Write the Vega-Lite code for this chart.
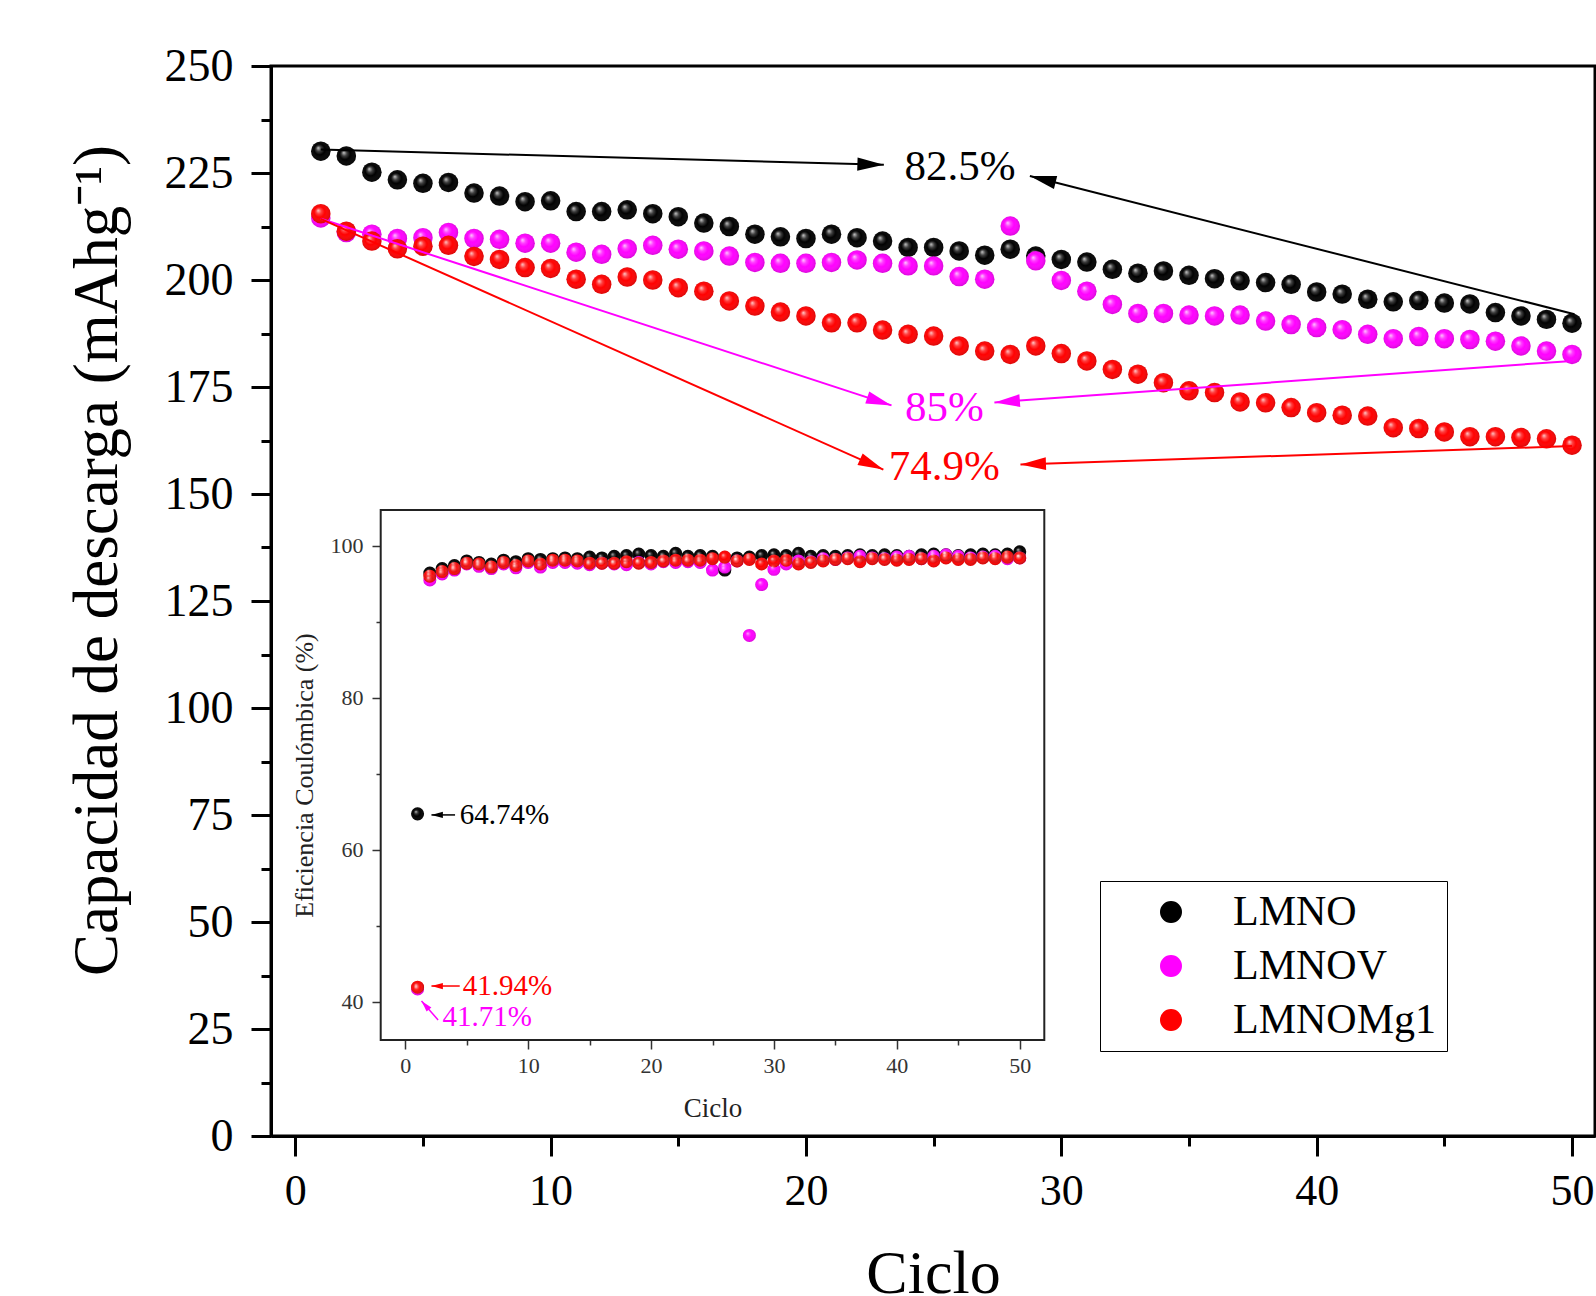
{
  "$schema": "https://vega.github.io/schema/vega-lite/v6.json",
  "autosize": {"type": "none"},
  "padding": {"left": 271, "top": 66, "right": 1, "bottom": 160},
  "width": 1324,
  "height": 1070,
  "background": "white",
  "datasets": {
    "capacidad": [
      {"ciclo":1,"LMNO":230.1,"LMNOV":214.5,"LMNOMg1":215.5},
      {"ciclo":2,"LMNO":229.0,"LMNOV":211.1,"LMNOMg1":211.4},
      {"ciclo":3,"LMNO":225.2,"LMNOV":210.7,"LMNOMg1":209.1},
      {"ciclo":4,"LMNO":223.4,"LMNOV":209.7,"LMNOMg1":207.3},
      {"ciclo":5,"LMNO":222.6,"LMNOV":209.9,"LMNOMg1":207.9},
      {"ciclo":6,"LMNO":222.8,"LMNOV":211.1,"LMNOMg1":208.1},
      {"ciclo":7,"LMNO":220.3,"LMNOV":209.7,"LMNOMg1":205.5},
      {"ciclo":8,"LMNO":219.6,"LMNOV":209.5,"LMNOMg1":204.8},
      {"ciclo":9,"LMNO":218.3,"LMNOV":208.6,"LMNOMg1":202.9},
      {"ciclo":10,"LMNO":218.5,"LMNOV":208.6,"LMNOMg1":202.7},
      {"ciclo":11,"LMNO":216.0,"LMNOV":206.5,"LMNOMg1":200.2},
      {"ciclo":12,"LMNO":216.0,"LMNOV":206.0,"LMNOMg1":199.0},
      {"ciclo":13,"LMNO":216.4,"LMNOV":207.3,"LMNOMg1":200.7},
      {"ciclo":14,"LMNO":215.5,"LMNOV":208.1,"LMNOMg1":200.0},
      {"ciclo":15,"LMNO":214.8,"LMNOV":207.2,"LMNOMg1":198.2},
      {"ciclo":16,"LMNO":213.3,"LMNOV":206.8,"LMNOMg1":197.4},
      {"ciclo":17,"LMNO":212.5,"LMNOV":205.6,"LMNOMg1":195.1},
      {"ciclo":18,"LMNO":210.7,"LMNOV":204.1,"LMNOMg1":193.9},
      {"ciclo":19,"LMNO":210.1,"LMNOV":203.9,"LMNOMg1":192.5},
      {"ciclo":20,"LMNO":209.7,"LMNOV":203.9,"LMNOMg1":191.6},
      {"ciclo":21,"LMNO":210.7,"LMNOV":204.1,"LMNOMg1":190.0},
      {"ciclo":22,"LMNO":209.9,"LMNOV":204.7,"LMNOMg1":190.0},
      {"ciclo":23,"LMNO":209.1,"LMNOV":203.9,"LMNOMg1":188.3},
      {"ciclo":24,"LMNO":207.6,"LMNOV":203.3,"LMNOMg1":187.3},
      {"ciclo":25,"LMNO":207.6,"LMNOV":203.3,"LMNOMg1":186.9},
      {"ciclo":26,"LMNO":206.8,"LMNOV":200.8,"LMNOMg1":184.6},
      {"ciclo":27,"LMNO":205.8,"LMNOV":200.2,"LMNOMg1":183.4},
      {"ciclo":28,"LMNO":207.2,"LMNOV":212.6,"LMNOMg1":182.6},
      {"ciclo":29,"LMNO":205.6,"LMNOV":204.5,"LMNOMg1":184.6},
      {"ciclo":30,"LMNO":204.8,"LMNOV":199.9,"LMNOMg1":182.8},
      {"ciclo":31,"LMNO":204.2,"LMNOV":197.4,"LMNOMg1":181.1},
      {"ciclo":32,"LMNO":202.5,"LMNOV":194.3,"LMNOMg1":179.1},
      {"ciclo":33,"LMNO":201.6,"LMNOV":192.2,"LMNOMg1":178.0},
      {"ciclo":34,"LMNO":202.1,"LMNOV":192.2,"LMNOMg1":176.0},
      {"ciclo":35,"LMNO":201.1,"LMNOV":191.8,"LMNOMg1":174.1},
      {"ciclo":36,"LMNO":200.3,"LMNOV":191.6,"LMNOMg1":173.7},
      {"ciclo":37,"LMNO":199.8,"LMNOV":191.8,"LMNOMg1":171.5},
      {"ciclo":38,"LMNO":199.4,"LMNOV":190.4,"LMNOMg1":171.3},
      {"ciclo":39,"LMNO":199.0,"LMNOV":189.6,"LMNOMg1":170.2},
      {"ciclo":40,"LMNO":197.2,"LMNOV":188.9,"LMNOMg1":169.0},
      {"ciclo":41,"LMNO":196.7,"LMNOV":188.4,"LMNOMg1":168.4},
      {"ciclo":42,"LMNO":195.5,"LMNOV":187.3,"LMNOMg1":168.2},
      {"ciclo":43,"LMNO":194.9,"LMNOV":186.3,"LMNOMg1":165.5},
      {"ciclo":44,"LMNO":195.2,"LMNOV":186.8,"LMNOMg1":165.3},
      {"ciclo":45,"LMNO":194.6,"LMNOV":186.3,"LMNOMg1":164.5},
      {"ciclo":46,"LMNO":194.4,"LMNOV":186.1,"LMNOMg1":163.4},
      {"ciclo":47,"LMNO":192.4,"LMNOV":185.7,"LMNOMg1":163.4},
      {"ciclo":48,"LMNO":191.6,"LMNOV":184.6,"LMNOMg1":163.2},
      {"ciclo":49,"LMNO":190.8,"LMNOV":183.4,"LMNOMg1":162.9},
      {"ciclo":50,"LMNO":189.9,"LMNOV":182.6,"LMNOMg1":161.4}
    ],
    "eficiencia": [
      {"ciclo":1,"LMNO":64.74,"LMNOV":41.71,"LMNOMg1":41.94},
      {"ciclo":2,"LMNO":96.4,"LMNOV":95.5,"LMNOMg1":96.0},
      {"ciclo":3,"LMNO":97.0,"LMNOV":96.3,"LMNOMg1":96.6},
      {"ciclo":4,"LMNO":97.4,"LMNOV":96.8,"LMNOMg1":97.0},
      {"ciclo":5,"LMNO":98.0,"LMNOV":97.6,"LMNOMg1":97.7},
      {"ciclo":6,"LMNO":97.8,"LMNOV":97.3,"LMNOMg1":97.6},
      {"ciclo":7,"LMNO":97.6,"LMNOV":97.0,"LMNOMg1":97.2},
      {"ciclo":8,"LMNO":98.1,"LMNOV":97.6,"LMNOMg1":97.8},
      {"ciclo":9,"LMNO":97.9,"LMNOV":97.1,"LMNOMg1":97.4},
      {"ciclo":10,"LMNO":98.3,"LMNOV":97.8,"LMNOMg1":98.0},
      {"ciclo":11,"LMNO":98.2,"LMNOV":97.2,"LMNOMg1":97.6},
      {"ciclo":12,"LMNO":98.3,"LMNOV":97.8,"LMNOMg1":98.1},
      {"ciclo":13,"LMNO":98.4,"LMNOV":97.8,"LMNOMg1":98.1},
      {"ciclo":14,"LMNO":98.3,"LMNOV":97.7,"LMNOMg1":98.0},
      {"ciclo":15,"LMNO":98.5,"LMNOV":97.5,"LMNOMg1":97.7},
      {"ciclo":16,"LMNO":98.4,"LMNOV":97.7,"LMNOMg1":97.7},
      {"ciclo":17,"LMNO":98.6,"LMNOV":97.6,"LMNOMg1":97.7},
      {"ciclo":18,"LMNO":98.7,"LMNOV":97.5,"LMNOMg1":97.9},
      {"ciclo":19,"LMNO":98.9,"LMNOV":97.8,"LMNOMg1":97.7},
      {"ciclo":20,"LMNO":98.7,"LMNOV":97.6,"LMNOMg1":97.8},
      {"ciclo":21,"LMNO":98.6,"LMNOV":97.9,"LMNOMg1":98.0},
      {"ciclo":22,"LMNO":99.0,"LMNOV":97.8,"LMNOMg1":98.1},
      {"ciclo":23,"LMNO":98.6,"LMNOV":97.9,"LMNOMg1":98.1},
      {"ciclo":24,"LMNO":98.7,"LMNOV":97.8,"LMNOMg1":98.1},
      {"ciclo":25,"LMNO":98.6,"LMNOV":96.8,"LMNOMg1":98.3},
      {"ciclo":26,"LMNO":96.8,"LMNOV":97.2,"LMNOMg1":98.5},
      {"ciclo":27,"LMNO":98.4,"LMNOV":98.0,"LMNOMg1":98.0},
      {"ciclo":28,"LMNO":98.5,"LMNOV":88.2,"LMNOMg1":98.2},
      {"ciclo":29,"LMNO":98.7,"LMNOV":94.9,"LMNOMg1":97.6},
      {"ciclo":30,"LMNO":98.8,"LMNOV":96.9,"LMNOMg1":98.0},
      {"ciclo":31,"LMNO":98.7,"LMNOV":97.6,"LMNOMg1":98.1},
      {"ciclo":32,"LMNO":99.0,"LMNOV":98.0,"LMNOMg1":97.6},
      {"ciclo":33,"LMNO":98.6,"LMNOV":97.9,"LMNOMg1":97.8},
      {"ciclo":34,"LMNO":98.7,"LMNOV":98.3,"LMNOMg1":98.0},
      {"ciclo":35,"LMNO":98.6,"LMNOV":98.2,"LMNOMg1":98.2},
      {"ciclo":36,"LMNO":98.7,"LMNOV":98.4,"LMNOMg1":98.3},
      {"ciclo":37,"LMNO":98.8,"LMNOV":98.6,"LMNOMg1":97.9},
      {"ciclo":38,"LMNO":98.7,"LMNOV":98.4,"LMNOMg1":98.3},
      {"ciclo":39,"LMNO":98.8,"LMNOV":98.3,"LMNOMg1":98.2},
      {"ciclo":40,"LMNO":98.7,"LMNOV":98.5,"LMNOMg1":98.1},
      {"ciclo":41,"LMNO":98.6,"LMNOV":98.6,"LMNOMg1":98.2},
      {"ciclo":42,"LMNO":98.8,"LMNOV":98.3,"LMNOMg1":98.3},
      {"ciclo":43,"LMNO":98.9,"LMNOV":98.6,"LMNOMg1":98.0},
      {"ciclo":44,"LMNO":98.8,"LMNOV":98.8,"LMNOMg1":98.4},
      {"ciclo":45,"LMNO":98.7,"LMNOV":98.6,"LMNOMg1":98.2},
      {"ciclo":46,"LMNO":98.8,"LMNOV":98.4,"LMNOMg1":98.2},
      {"ciclo":47,"LMNO":98.9,"LMNOV":98.5,"LMNOMg1":98.4},
      {"ciclo":48,"LMNO":98.8,"LMNOV":98.6,"LMNOMg1":98.3},
      {"ciclo":49,"LMNO":98.9,"LMNOV":98.3,"LMNOMg1":98.5},
      {"ciclo":50,"LMNO":99.2,"LMNOV":98.4,"LMNOMg1":98.4}
    ]
  },
  "layer": [
    {
      "layer": [
        {
          "data": {"name": "capacidad"},
          "transform": [{"fold": ["LMNO","LMNOV","LMNOMg1"], "as": ["muestra","cap"]}, {"filter": "datum.muestra === 'LMNO'"}],
          "mark": {"type": "point", "filled": true, "size": 380, "opacity": 1, "strokeWidth": 0},
          "encoding": {
            "x": {"field": "ciclo", "type": "quantitative", "scale": {"domain": [-0.95, 50.9], "nice": false, "zero": false},
                  "axis": {"orient": "bottom", "values": [0,10,20,30,40,50], "tickSize": 20, "tickWidth": 3, "tickColor": "black", "domain": true, "domainWidth": 3, "domainColor": "black", "labelFont": "Liberation Serif", "labelFontSize": 44, "labelColor": "black", "labelPadding": 13, "labelFlush": false, "labelOverlap": false, "grid": false, "title": "Ciclo", "titleFont": "Liberation Serif", "titleFontSize": 62, "titleFontWeight": "normal", "titleColor": "black", "titlePadding": 30}},
            "y": {"field": "cap", "type": "quantitative", "scale": {"domain": [0, 250], "nice": false, "zero": false},
                  "axis": {"orient": "left", "values": [0,25,50,75,100,125,150,175,200,225,250], "tickSize": 20, "tickWidth": 3, "tickColor": "black", "domain": true, "domainWidth": 3, "domainColor": "black", "labelFont": "Liberation Serif", "labelFontSize": 46, "labelColor": "black", "labelPadding": 18, "labelFlush": false, "labelOverlap": false, "grid": false, "title": "Capacidad de descarga (mAhg⁻¹)", "titleFont": "Liberation Serif", "titleFontSize": 63, "titleFontWeight": "normal", "titleColor": "black", "titleX": -174, "titleY": 494, "titleBaseline": "middle", "titleAlign": "center", "titleAngle": -90}},
            "color": {"field": "muestra", "type": "nominal", "scale": {"domain": ["LMNO","LMNOV","LMNOMg1"], "range": ["#000000","#ff00ff","#ff0000"]},
                      "legend": {"orient": "none", "legendX": 829, "legendY": 815, "title": null, "strokeColor": "black", "fillColor": "white", "padding": 10, "symbolType": "circle", "symbolSize": 420, "symbolOffset": 40, "labelFont": "Liberation Serif", "labelFontSize": 42, "labelColor": "black", "labelOffset": 41, "rowPadding": 12, "labelLimit": 400, "encode": {"legend": {"update": {"strokeWidth": {"value": 2}}}}}}
          }
        },
        {
          "data": {"name": "capacidad"},
          "transform": [{"fold": ["LMNO","LMNOV","LMNOMg1"], "as": ["muestra","cap"]}, {"filter": "datum.muestra === 'LMNO'"}],
          "mark": {"type": "point", "filled": true, "size": 380, "opacity": 1, "strokeWidth": 0,
                   "fill": {"gradient": "radial", "x1": 0.36, "y1": 0.33, "r1": 0, "x2": 0.5, "y2": 0.5, "r2": 0.55, "stops": [{"offset": 0, "color": "rgba(255,255,255,0.8)"}, {"offset": 0.25, "color": "rgba(255,255,255,0.25)"}, {"offset": 0.5, "color": "rgba(255,255,255,0)"}, {"offset": 1, "color": "rgba(0,0,0,0.2)"}]}},
          "encoding": {
            "x": {"field": "ciclo", "type": "quantitative", "scale": {"domain": [-0.95, 50.9], "nice": false, "zero": false}, "axis": null},
            "y": {"field": "cap", "type": "quantitative", "scale": {"domain": [0, 250], "nice": false, "zero": false}, "axis": null}
          }
        },
        {
          "data": {"name": "capacidad"},
          "transform": [{"fold": ["LMNO","LMNOV","LMNOMg1"], "as": ["muestra","cap"]}, {"filter": "datum.muestra === 'LMNOV'"}],
          "mark": {"type": "point", "filled": true, "size": 380, "opacity": 1, "strokeWidth": 0},
          "encoding": {
            "x": {"field": "ciclo", "type": "quantitative", "scale": {"domain": [-0.95, 50.9], "nice": false, "zero": false}, "axis": null},
            "y": {"field": "cap", "type": "quantitative", "scale": {"domain": [0, 250], "nice": false, "zero": false}, "axis": null},
            "color": {"field": "muestra", "type": "nominal", "scale": {"domain": ["LMNO","LMNOV","LMNOMg1"], "range": ["#000000","#ff00ff","#ff0000"]}, "legend": null}
          }
        },
        {
          "data": {"name": "capacidad"},
          "transform": [{"fold": ["LMNO","LMNOV","LMNOMg1"], "as": ["muestra","cap"]}, {"filter": "datum.muestra === 'LMNOV'"}],
          "mark": {"type": "point", "filled": true, "size": 380, "opacity": 1, "strokeWidth": 0,
                   "fill": {"gradient": "radial", "x1": 0.36, "y1": 0.33, "r1": 0, "x2": 0.5, "y2": 0.5, "r2": 0.55, "stops": [{"offset": 0, "color": "rgba(255,255,255,0.8)"}, {"offset": 0.25, "color": "rgba(255,255,255,0.25)"}, {"offset": 0.5, "color": "rgba(255,255,255,0)"}, {"offset": 1, "color": "rgba(0,0,0,0.2)"}]}},
          "encoding": {
            "x": {"field": "ciclo", "type": "quantitative", "scale": {"domain": [-0.95, 50.9], "nice": false, "zero": false}, "axis": null},
            "y": {"field": "cap", "type": "quantitative", "scale": {"domain": [0, 250], "nice": false, "zero": false}, "axis": null}
          }
        },
        {
          "data": {"name": "capacidad"},
          "transform": [{"fold": ["LMNO","LMNOV","LMNOMg1"], "as": ["muestra","cap"]}, {"filter": "datum.muestra === 'LMNOMg1'"}],
          "mark": {"type": "point", "filled": true, "size": 380, "opacity": 1, "strokeWidth": 0},
          "encoding": {
            "x": {"field": "ciclo", "type": "quantitative", "scale": {"domain": [-0.95, 50.9], "nice": false, "zero": false}, "axis": null},
            "y": {"field": "cap", "type": "quantitative", "scale": {"domain": [0, 250], "nice": false, "zero": false}, "axis": null},
            "color": {"field": "muestra", "type": "nominal", "scale": {"domain": ["LMNO","LMNOV","LMNOMg1"], "range": ["#000000","#ff00ff","#ff0000"]}, "legend": null}
          }
        },
        {
          "data": {"name": "capacidad"},
          "transform": [{"fold": ["LMNO","LMNOV","LMNOMg1"], "as": ["muestra","cap"]}, {"filter": "datum.muestra === 'LMNOMg1'"}],
          "mark": {"type": "point", "filled": true, "size": 380, "opacity": 1, "strokeWidth": 0,
                   "fill": {"gradient": "radial", "x1": 0.36, "y1": 0.33, "r1": 0, "x2": 0.5, "y2": 0.5, "r2": 0.55, "stops": [{"offset": 0, "color": "rgba(255,255,255,0.8)"}, {"offset": 0.25, "color": "rgba(255,255,255,0.25)"}, {"offset": 0.5, "color": "rgba(255,255,255,0)"}, {"offset": 1, "color": "rgba(0,0,0,0.2)"}]}},
          "encoding": {
            "x": {"field": "ciclo", "type": "quantitative", "scale": {"domain": [-0.95, 50.9], "nice": false, "zero": false}, "axis": null},
            "y": {"field": "cap", "type": "quantitative", "scale": {"domain": [0, 250], "nice": false, "zero": false}, "axis": null}
          }
        },
        {
          "data": {"values": [
            {"muestra": "LMNO", "x": 1, "y": 230.5, "x2": 23.05, "y2": 226.9},
            {"muestra": "LMNO", "x": 50.1, "y": 192.0, "x2": 28.77, "y2": 224.3},
            {"muestra": "LMNOV", "x": 1, "y": 214.3, "x2": 23.35, "y2": 170.7},
            {"muestra": "LMNOV", "x": 50, "y": 181.1, "x2": 27.38, "y2": 171.4},
            {"muestra": "LMNOMg1", "x": 1, "y": 214.3, "x2": 23.03, "y2": 155.7},
            {"muestra": "LMNOMg1", "x": 50, "y": 161.2, "x2": 28.4, "y2": 156.9}
          ]},
          "mark": {"type": "rule", "strokeWidth": 2},
          "encoding": {
            "x": {"field": "x", "type": "quantitative", "scale": {"domain": [-0.95, 50.9], "nice": false, "zero": false}, "axis": null},
            "y": {"field": "y", "type": "quantitative", "scale": {"domain": [0, 250], "nice": false, "zero": false}, "axis": null},
            "x2": {"field": "x2"},
            "y2": {"field": "y2"},
            "color": {"field": "muestra", "type": "nominal", "scale": {"domain": ["LMNO","LMNOV","LMNOMg1"], "range": ["#000000","#ff00ff","#ff0000"]}, "legend": null}
          }
        },
        {
          "data": {"values": [{"x": 23.05, "y": 226.9}]},
          "mark": {"type": "point", "shape": "M0,0L-2,-0.5L-2,0.5Z", "size": 700, "angle": 1.8, "filled": true, "opacity": 1, "color": "#000000", "strokeWidth": 0},
          "encoding": {
            "x": {"field": "x", "type": "quantitative", "scale": {"domain": [-0.95, 50.9], "nice": false, "zero": false}, "axis": null},
            "y": {"field": "y", "type": "quantitative", "scale": {"domain": [0, 250], "nice": false, "zero": false}, "axis": null}
          }
        },
        {
          "data": {"values": [{"x": 28.77, "y": 224.3}]},
          "mark": {"type": "point", "shape": "M0,0L-2,-0.5L-2,0.5Z", "size": 700, "angle": 194.2, "filled": true, "opacity": 1, "color": "#000000", "strokeWidth": 0},
          "encoding": {
            "x": {"field": "x", "type": "quantitative", "scale": {"domain": [-0.95, 50.9], "nice": false, "zero": false}, "axis": null},
            "y": {"field": "y", "type": "quantitative", "scale": {"domain": [0, 250], "nice": false, "zero": false}, "axis": null}
          }
        },
        {
          "data": {"values": [{"x": 23.35, "y": 170.7}]},
          "mark": {"type": "point", "shape": "M0,0L-2,-0.5L-2,0.5Z", "size": 650, "angle": 18.1, "filled": true, "opacity": 1, "color": "#ff00ff", "strokeWidth": 0},
          "encoding": {
            "x": {"field": "x", "type": "quantitative", "scale": {"domain": [-0.95, 50.9], "nice": false, "zero": false}, "axis": null},
            "y": {"field": "y", "type": "quantitative", "scale": {"domain": [0, 250], "nice": false, "zero": false}, "axis": null}
          }
        },
        {
          "data": {"values": [{"x": 27.38, "y": 171.4}]},
          "mark": {"type": "point", "shape": "M0,0L-2,-0.5L-2,0.5Z", "size": 650, "angle": 175.9, "filled": true, "opacity": 1, "color": "#ff00ff", "strokeWidth": 0},
          "encoding": {
            "x": {"field": "x", "type": "quantitative", "scale": {"domain": [-0.95, 50.9], "nice": false, "zero": false}, "axis": null},
            "y": {"field": "y", "type": "quantitative", "scale": {"domain": [0, 250], "nice": false, "zero": false}, "axis": null}
          }
        },
        {
          "data": {"values": [{"x": 23.03, "y": 155.7}]},
          "mark": {"type": "point", "shape": "M0,0L-2,-0.5L-2,0.5Z", "size": 650, "angle": 24.1, "filled": true, "opacity": 1, "color": "#ff0000", "strokeWidth": 0},
          "encoding": {
            "x": {"field": "x", "type": "quantitative", "scale": {"domain": [-0.95, 50.9], "nice": false, "zero": false}, "axis": null},
            "y": {"field": "y", "type": "quantitative", "scale": {"domain": [0, 250], "nice": false, "zero": false}, "axis": null}
          }
        },
        {
          "data": {"values": [{"x": 28.4, "y": 156.9}]},
          "mark": {"type": "point", "shape": "M0,0L-2,-0.5L-2,0.5Z", "size": 650, "angle": 178.1, "filled": true, "opacity": 1, "color": "#ff0000", "strokeWidth": 0},
          "encoding": {
            "x": {"field": "x", "type": "quantitative", "scale": {"domain": [-0.95, 50.9], "nice": false, "zero": false}, "axis": null},
            "y": {"field": "y", "type": "quantitative", "scale": {"domain": [0, 250], "nice": false, "zero": false}, "axis": null}
          }
        },
        {
          "data": {"values": [
            {"t": "82.5%", "x": 26.03, "y": 226.4, "muestra": "LMNO"},
            {"t": "85%", "x": 25.42, "y": 170.0, "muestra": "LMNOV"},
            {"t": "74.9%", "x": 25.42, "y": 156.2, "muestra": "LMNOMg1"}
          ]},
          "mark": {"type": "text", "font": "Liberation Serif", "fontSize": 43, "align": "center", "baseline": "middle"},
          "encoding": {
            "x": {"field": "x", "type": "quantitative", "scale": {"domain": [-0.95, 50.9], "nice": false, "zero": false}, "axis": null},
            "y": {"field": "y", "type": "quantitative", "scale": {"domain": [0, 250], "nice": false, "zero": false}, "axis": null},
            "text": {"field": "t"},
            "color": {"field": "muestra", "type": "nominal", "scale": {"domain": ["LMNO","LMNOV","LMNOMg1"], "range": ["#000000","#ff00ff","#ff0000"]}, "legend": null}
          }
        },
        {
          "data": {"values": [{"x": 0, "y": 0}]},
          "mark": {"type": "point", "opacity": 0},
          "encoding": {
            "x": {"field": "x", "type": "quantitative", "scale": {"domain": [-0.95, 50.9], "nice": false, "zero": false},
                  "axis": {"orient": "bottom", "values": [5,15,25,35,45], "labels": false, "domain": false, "ticks": true, "tickSize": 10, "tickWidth": 3, "tickColor": "black", "grid": false, "title": null}},
            "y": {"field": "y", "type": "quantitative", "scale": {"domain": [0, 250], "nice": false, "zero": false},
                  "axis": {"orient": "left", "values": [12.5,37.5,62.5,87.5,112.5,137.5,162.5,187.5,212.5,237.5], "labels": false, "domain": false, "ticks": true, "tickSize": 10, "tickWidth": 3, "tickColor": "black", "grid": false, "title": null}}
          }
        }
      ],
      "resolve": {"axis": {"x": "independent", "y": "independent"}}
    },
    {
      "layer": [
        {
          "data": {"values": [{}]},
          "mark": {"type": "rect", "fill": "white", "stroke": "#222222", "strokeWidth": 2},
          "encoding": {
            "x": {"datum": -2, "type": "quantitative", "scale": {"domain": [-2, 52], "range": [109.7, 773.3], "nice": false, "zero": false}, "axis": null},
            "x2": {"datum": 52},
            "y": {"datum": 35, "type": "quantitative", "scale": {"domain": [35, 104.7], "range": [974, 444], "nice": false, "zero": false}, "axis": null},
            "y2": {"datum": 104.7}
          }
        },
        {
          "data": {"name": "eficiencia"},
          "transform": [{"fold": ["LMNO","LMNOV","LMNOMg1"], "as": ["muestra","ef"]}],
          "mark": {"type": "point", "filled": true, "size": 170, "opacity": 1, "strokeWidth": 0},
          "encoding": {
            "x": {"field": "ciclo", "type": "quantitative", "scale": {"domain": [-2, 52], "range": [109.7, 773.3], "nice": false, "zero": false},
                  "axis": {"orient": "bottom", "offset": -96, "values": [0,10,20,30,40,50], "tickSize": 9, "tickWidth": 1.5, "tickColor": "#333333", "domain": false, "labelFont": "Liberation Serif", "labelFontSize": 22, "labelColor": "#333333", "labelPadding": 6, "labelFlush": false, "labelOverlap": false, "grid": false, "title": "Ciclo", "titleFont": "Liberation Serif", "titleFontSize": 27, "titleFontWeight": "normal", "titleColor": "#222222", "titlePadding": 19}},
            "y": {"field": "ef", "type": "quantitative", "scale": {"domain": [35, 104.7], "range": [974, 444], "nice": false, "zero": false},
                  "axis": {"orient": "left", "offset": -110, "values": [40,60,80,100], "tickSize": 9, "tickWidth": 1.5, "tickColor": "#333333", "domain": false, "labelFont": "Liberation Serif", "labelFontSize": 22, "labelColor": "#333333", "labelPadding": 9, "labelFlush": false, "labelOverlap": false, "grid": false, "title": "Eficiencia Coulómbica (%)", "titleFont": "Liberation Serif", "titleFontSize": 26, "titleFontWeight": "normal", "titleColor": "#222222", "titlePadding": 13}},
            "color": {"field": "muestra", "type": "nominal", "scale": {"domain": ["LMNO","LMNOV","LMNOMg1"], "range": ["#000000","#ff00ff","#ff0000"]}, "legend": null}
          }
        },
        {
          "data": {"name": "eficiencia"},
          "transform": [{"fold": ["LMNO","LMNOV","LMNOMg1"], "as": ["muestra","ef"]}],
          "mark": {"type": "point", "filled": true, "size": 170, "opacity": 1, "strokeWidth": 0,
                   "fill": {"gradient": "radial", "x1": 0.36, "y1": 0.33, "r1": 0, "x2": 0.5, "y2": 0.5, "r2": 0.55, "stops": [{"offset": 0, "color": "rgba(255,255,255,0.75)"}, {"offset": 0.25, "color": "rgba(255,255,255,0.2)"}, {"offset": 0.5, "color": "rgba(255,255,255,0)"}, {"offset": 1, "color": "rgba(0,0,0,0.2)"}]}},
          "encoding": {
            "x": {"field": "ciclo", "type": "quantitative", "scale": {"domain": [-2, 52], "range": [109.7, 773.3], "nice": false, "zero": false}, "axis": null},
            "y": {"field": "ef", "type": "quantitative", "scale": {"domain": [35, 104.7], "range": [974, 444], "nice": false, "zero": false}, "axis": null}
          }
        },
        {
          "data": {"values": [
            {"muestra": "LMNO", "x": 4.05, "y": 64.6, "x2": 2.13, "y2": 64.6},
            {"muestra": "LMNOMg1", "x": 4.43, "y": 42.1, "x2": 2.13, "y2": 42.1},
            {"muestra": "LMNOV", "x": 2.67, "y": 37.64, "x2": 1.32, "y2": 40.14}
          ]},
          "mark": {"type": "rule", "strokeWidth": 1.5},
          "encoding": {
            "x": {"field": "x", "type": "quantitative", "scale": {"domain": [-2, 52], "range": [109.7, 773.3], "nice": false, "zero": false}, "axis": null},
            "y": {"field": "y", "type": "quantitative", "scale": {"domain": [35, 104.7], "range": [974, 444], "nice": false, "zero": false}, "axis": null},
            "x2": {"field": "x2"},
            "y2": {"field": "y2"},
            "color": {"field": "muestra", "type": "nominal", "scale": {"domain": ["LMNO","LMNOV","LMNOMg1"], "range": ["#000000","#ff00ff","#ff0000"]}, "legend": null}
          }
        },
        {
          "data": {"values": [{"x": 2.13, "y": 64.6}]},
          "mark": {"type": "point", "shape": "M0,0L-2,-0.55L-2,0.55Z", "size": 130, "angle": 180, "filled": true, "opacity": 1, "color": "#000000", "strokeWidth": 0},
          "encoding": {
            "x": {"field": "x", "type": "quantitative", "scale": {"domain": [-2, 52], "range": [109.7, 773.3], "nice": false, "zero": false}, "axis": null},
            "y": {"field": "y", "type": "quantitative", "scale": {"domain": [35, 104.7], "range": [974, 444], "nice": false, "zero": false}, "axis": null}
          }
        },
        {
          "data": {"values": [{"x": 2.13, "y": 42.1}]},
          "mark": {"type": "point", "shape": "M0,0L-2,-0.55L-2,0.55Z", "size": 130, "angle": 180, "filled": true, "opacity": 1, "color": "#ff0000", "strokeWidth": 0},
          "encoding": {
            "x": {"field": "x", "type": "quantitative", "scale": {"domain": [-2, 52], "range": [109.7, 773.3], "nice": false, "zero": false}, "axis": null},
            "y": {"field": "y", "type": "quantitative", "scale": {"domain": [35, 104.7], "range": [974, 444], "nice": false, "zero": false}, "axis": null}
          }
        },
        {
          "data": {"values": [{"x": 1.32, "y": 40.14}]},
          "mark": {"type": "point", "shape": "M0,0L-2,-0.55L-2,0.55Z", "size": 130, "angle": 228.9, "filled": true, "opacity": 1, "color": "#ff00ff", "strokeWidth": 0},
          "encoding": {
            "x": {"field": "x", "type": "quantitative", "scale": {"domain": [-2, 52], "range": [109.7, 773.3], "nice": false, "zero": false}, "axis": null},
            "y": {"field": "y", "type": "quantitative", "scale": {"domain": [35, 104.7], "range": [974, 444], "nice": false, "zero": false}, "axis": null}
          }
        },
        {
          "data": {"values": [
            {"t": "64.74%", "x": 4.43, "y": 64.6, "muestra": "LMNO"},
            {"t": "41.94%", "x": 4.67, "y": 42.1, "muestra": "LMNOMg1"},
            {"t": "41.71%", "x": 3.02, "y": 38.0, "muestra": "LMNOV"}
          ]},
          "mark": {"type": "text", "font": "Liberation Serif", "fontSize": 29, "align": "left", "baseline": "middle"},
          "encoding": {
            "x": {"field": "x", "type": "quantitative", "scale": {"domain": [-2, 52], "range": [109.7, 773.3], "nice": false, "zero": false}, "axis": null},
            "y": {"field": "y", "type": "quantitative", "scale": {"domain": [35, 104.7], "range": [974, 444], "nice": false, "zero": false}, "axis": null},
            "text": {"field": "t"},
            "color": {"field": "muestra", "type": "nominal", "scale": {"domain": ["LMNO","LMNOV","LMNOMg1"], "range": ["#000000","#ff00ff","#ff0000"]}, "legend": null}
          }
        },
        {
          "data": {"values": [{"x": 0, "y": 40}]},
          "mark": {"type": "point", "opacity": 0},
          "encoding": {
            "x": {"field": "x", "type": "quantitative", "scale": {"domain": [-2, 52], "range": [109.7, 773.3], "nice": false, "zero": false},
                  "axis": {"orient": "bottom", "offset": -96, "values": [5,15,25,35,45], "labels": false, "domain": false, "ticks": true, "tickSize": 5, "tickWidth": 1.5, "tickColor": "#333333", "grid": false, "title": null}},
            "y": {"field": "y", "type": "quantitative", "scale": {"domain": [35, 104.7], "range": [974, 444], "nice": false, "zero": false},
                  "axis": {"orient": "left", "offset": -110, "values": [50,70,90], "labels": false, "domain": false, "ticks": true, "tickSize": 5, "tickWidth": 1.5, "tickColor": "#333333", "grid": false, "title": null}}
          }
        }
      ],
      "resolve": {"axis": {"x": "independent", "y": "independent"}}
    }
  ],
  "resolve": {"scale": {"x": "independent", "y": "independent"}},
  "config": {
    "view": {"stroke": "black", "strokeWidth": 3},
    "font": "Liberation Serif",
    "axis": {"grid": false}
  }
}
